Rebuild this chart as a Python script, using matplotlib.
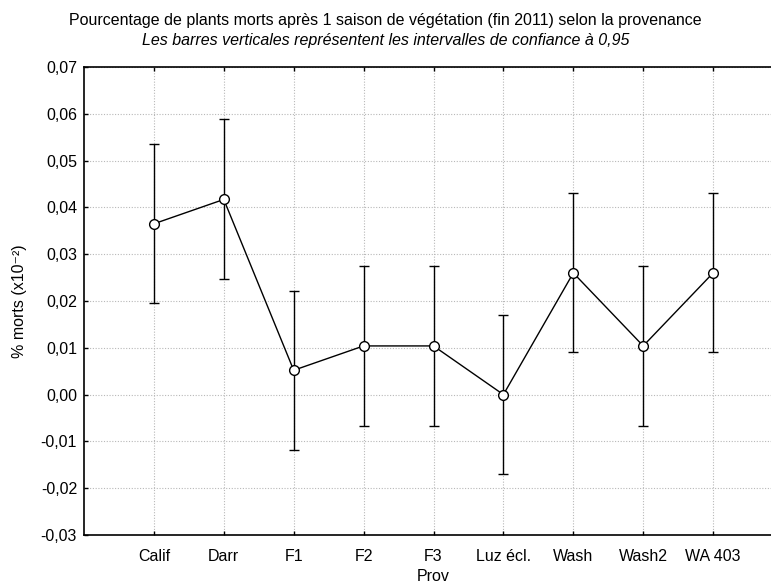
import matplotlib
matplotlib.use("Agg")
import matplotlib.pyplot as plt
import numpy as np

plt.rcParams['font.family'] = ['Liberation Sans', 'DejaVu Sans']

# Provenances and mean mortality with 95% confidence half-widths
provenances = ["Calif", "Darr", "F1", "F2", "F3", "Luz écl.", "Wash", "Wash2", "WA 403"]
mean_dead = [0.0365, 0.0417, 0.0052, 0.0104, 0.0104, 0.0000, 0.0260, 0.0104, 0.0260]
ci_half = [0.0170, 0.0171, 0.0170, 0.0171, 0.0171, 0.0170, 0.0170, 0.0171, 0.0170]

fig = plt.figure(figsize=(7.71, 5.87), dpi=100)
# axes runs a bit past the right edge of the figure
ax = fig.add_axes([84 / 771, 1 - 535 / 587, (783 - 84) / 771, (535 - 67) / 587])

x = np.arange(len(provenances))
ax.errorbar(x, mean_dead, yerr=ci_half, fmt='none', ecolor='black',
            elinewidth=1, capsize=3.5, capthick=1, zorder=2)
ax.plot(x, mean_dead, color='black', linewidth=1, marker='o', markersize=7,
        markerfacecolor='white', markeredgecolor='black', markeredgewidth=1, zorder=3)

fs = 11.5
yt = np.arange(-0.03, 0.0701, 0.01)
ax.set_xlim(-1, 9)
ax.set_ylim(-0.03, 0.07)
ax.set_xticks(x)
ax.set_xticklabels(provenances, fontsize=fs)
ax.set_yticks(yt)
ax.set_yticklabels([f"{v:.2f}".replace(".", ",").replace("-0,00", "0,00") for v in yt],
                   fontsize=fs)
ax.tick_params(direction='in', length=3, width=1, top=True, pad=5)
ax.tick_params(axis='x', pad=10)
ax.grid(True, color='#b8b8b8', linestyle=(0, (1, 1.5)), linewidth=0.8)
ax.set_axisbelow(True)
for s in ax.spines.values():
    s.set_linewidth(1.2)

ax.set_xlabel("Prov", fontsize=fs, labelpad=4)
ax.set_ylabel("% morts (x10⁻²)", fontsize=fs, labelpad=10)

fig.text(0.5, 1 - 20 / 587, "Pourcentage de plants morts après 1 saison de végétation (fin 2011) selon la provenance",
         ha='center', va='center', fontsize=fs)
fig.text(0.5, 1 - 40 / 587, "Les barres verticales représentent les intervalles de confiance à 0,95",
         ha='center', va='center', fontsize=fs, style='italic')

fig.savefig("out.png", dpi=100)
